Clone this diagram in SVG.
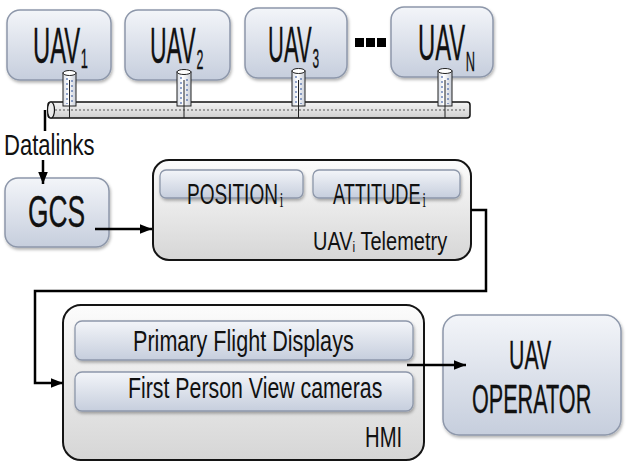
<svg xmlns="http://www.w3.org/2000/svg" width="628" height="472" viewBox="0 0 628 472">
<defs>
<linearGradient id="gBlue" x1="0" y1="0" x2="0" y2="1">
<stop offset="0" stop-color="#f3f5f9"/>
<stop offset="1" stop-color="#c6cedd"/>
</linearGradient>
<linearGradient id="gGray" x1="0" y1="0" x2="0" y2="1">
<stop offset="0" stop-color="#fcfcfc"/>
<stop offset="1" stop-color="#d6d6d6"/>
</linearGradient>
<linearGradient id="gCyl" x1="0" y1="0" x2="1" y2="0">
<stop offset="0" stop-color="#d8dde6"/>
<stop offset="0.4" stop-color="#ffffff"/>
<stop offset="1" stop-color="#c9ced8"/>
</linearGradient>
<linearGradient id="gPipe" x1="0" y1="0" x2="0" y2="1">
<stop offset="0" stop-color="#f4f4f4"/>
<stop offset="0.5" stop-color="#e2e2e2"/>
<stop offset="1" stop-color="#cfcfcf"/>
</linearGradient>
<filter id="sh" x="-10%" y="-10%" width="130%" height="140%">
<feDropShadow dx="1" dy="2" stdDeviation="1.5" flood-color="#000" flood-opacity="0.3"/>
</filter>
<marker id="ah" viewBox="0 0 10 10" refX="10" refY="5" markerWidth="5" markerHeight="5" orient="auto" markerUnits="strokeWidth">
<path d="M0,1 L10,5 L0,9 z" fill="#000"/>
</marker>
<style>
.ub{fill:url(#gBlue);stroke:#8d97aa;stroke-width:1.5;filter:url(#sh)}
.gb{fill:url(#gGray);stroke:#141414;stroke-width:2}
.sb{fill:url(#gBlue);stroke:#8d97aa;stroke-width:1.3;filter:url(#sh)}
.t{font-family:"Liberation Sans",Arial,sans-serif;fill:#111}
.b{stroke:#111;stroke-width:0.35}
.s{font-family:"Liberation Serif","Times New Roman",serif;fill:#111;stroke:none}
.cyl{fill:url(#gCyl);stroke:#222;stroke-width:1}
.hat{stroke:#2a4f9a;stroke-width:1;stroke-dasharray:2 3}
.cn{fill:none;stroke:#000;stroke-width:2.5}
</style>
</defs>

<g id="uav1">
<rect class="ub" x="7" y="10" width="104" height="70" rx="13"/>
<text class="t b" transform="translate(33,63) scale(0.477,1)" font-size="50">UAV<tspan font-size="27" dx="1" dy="5">1</tspan></text>
</g>
<g id="uav2">
<rect class="ub" x="125" y="10" width="105" height="70" rx="13"/>
<text class="t b" transform="translate(150,63) scale(0.46,1)" font-size="50">UAV<tspan font-size="27" dx="2" dy="6">2</tspan></text>
</g>
<g id="uav3">
<rect class="ub" x="245" y="8" width="102" height="70" rx="13"/>
<text class="t b" transform="translate(268,62) scale(0.44,1)" font-size="50">UAV<tspan font-size="27" dx="2" dy="6">3</tspan></text>
</g>
<g id="dots">
<rect x="355" y="38" width="9" height="9" fill="#000"/>
<rect x="366" y="38" width="9" height="9" fill="#000"/>
<rect x="377" y="38" width="9" height="9" fill="#000"/>
</g>
<g id="uavN">
<rect class="ub" x="391" y="7" width="102" height="70" rx="13"/>
<text class="t b" transform="translate(418,60) scale(0.477,1)" font-size="50">UAV<tspan font-size="27" dx="1" dy="11">N</tspan></text>
</g>

<g id="datalinks">
<rect x="48" y="102" width="422" height="16" rx="3" fill="url(#gPipe)" stroke="#111" stroke-width="1.5"/>
<ellipse cx="51" cy="110" rx="3.5" ry="8" fill="#ececec" stroke="#111" stroke-width="1.2"/>
<line x1="55" y1="110" x2="467" y2="110" stroke="#9a9a9a" stroke-width="2" stroke-dasharray="2 2"/>
<g>
<rect class="cyl" x="63" y="73" width="13" height="33"/>
<ellipse cx="69.5" cy="73" rx="6.5" ry="2.5" fill="#fff" stroke="#222" stroke-width="1"/>
<line class="hat" x1="67" y1="78" x2="67" y2="104"/>
<line class="hat" x1="72" y1="80" x2="72" y2="104"/>
<line x1="69.5" y1="80" x2="69.5" y2="118" stroke="#222" stroke-width="1"/>
</g>
<g>
<rect class="cyl" x="177" y="72" width="14" height="34"/>
<ellipse cx="184" cy="72" rx="7" ry="2.5" fill="#fff" stroke="#222" stroke-width="1"/>
<line class="hat" x1="181" y1="77" x2="181" y2="104"/>
<line class="hat" x1="187" y1="79" x2="187" y2="104"/>
<line x1="184" y1="80" x2="184" y2="118" stroke="#222" stroke-width="1"/>
</g>
<g>
<rect class="cyl" x="292" y="71" width="13" height="35"/>
<ellipse cx="298.5" cy="71" rx="6.5" ry="2.5" fill="#fff" stroke="#222" stroke-width="1"/>
<line class="hat" x1="296" y1="76" x2="296" y2="104"/>
<line class="hat" x1="301" y1="78" x2="301" y2="104"/>
<line x1="298.5" y1="80" x2="298.5" y2="118" stroke="#222" stroke-width="1"/>
</g>
<g>
<rect class="cyl" x="438" y="71" width="14" height="35"/>
<ellipse cx="445" cy="71" rx="7" ry="2.5" fill="#fff" stroke="#222" stroke-width="1"/>
<line class="hat" x1="442" y1="76" x2="442" y2="104"/>
<line class="hat" x1="448" y1="78" x2="448" y2="104"/>
<line x1="445" y1="80" x2="445" y2="118" stroke="#222" stroke-width="1"/>
</g>
<text class="t" transform="translate(4,155) scale(0.76,1)" font-size="29">Datalinks</text>
</g>

<g id="gcs">
<rect class="ub" x="5" y="178" width="104" height="69" rx="13"/>
<text class="t b" transform="translate(28,227) scale(0.6,1)" font-size="44">GCS</text>
</g>

<g id="telemetry">
<rect class="gb" x="153" y="160" width="318" height="100" rx="16"/>
<rect class="sb" x="160" y="170" width="143" height="28" rx="6"/>
<rect class="sb" x="313" y="170" width="147" height="28" rx="6"/>
<text class="t" transform="translate(187,204) scale(0.635,1)" font-size="30">POSITION<tspan class="s" font-size="20" dx="3" dy="3">i</tspan></text>
<text class="t" transform="translate(333,204) scale(0.607,1)" font-size="30">ATTITUDE<tspan class="s" font-size="20" dx="3" dy="3">i</tspan></text>
<text class="t" transform="translate(313,250) scale(0.8,1)" font-size="25">UAV<tspan font-size="15" dy="2">i</tspan><tspan dy="-2"> Telemetry</tspan></text>
</g>

<g id="hmi">
<rect class="gb" x="63" y="305" width="361" height="155" rx="18"/>
<rect class="sb" x="75" y="321" width="338" height="39" rx="7"/>
<rect class="sb" x="75" y="372" width="338" height="39" rx="7"/>
<text class="t" transform="translate(133,351) scale(0.72,1)" font-size="30">Primary Flight Displays</text>
<text class="t" transform="translate(128,398) scale(0.711,1)" font-size="30">First Person View cameras</text>
<text class="t" transform="translate(365,447) scale(0.7,1)" font-size="29">HMI</text>
</g>

<g id="operator">
<rect class="ub" x="443" y="315" width="178" height="120" rx="16"/>
<text class="t b" transform="translate(509,369) scale(0.52,1)" font-size="41">UAV</text>
<text class="t b" transform="translate(472,413) scale(0.527,1)" font-size="41">OPERATOR</text>
</g>

<g id="connectors">
<line class="cn" x1="45" y1="110" x2="45" y2="131"/>
<line class="cn" x1="43" y1="160" x2="43" y2="184" marker-end="url(#ah)"/>
<line class="cn" x1="95" y1="229" x2="152" y2="229" marker-end="url(#ah)"/>
<polyline class="cn" points="471,210 486,210 486,291 35,291 35,383 63,383" marker-end="url(#ah)"/>
<line class="cn" x1="407" y1="365" x2="466" y2="365" marker-end="url(#ah)"/>
</g>
</svg>
